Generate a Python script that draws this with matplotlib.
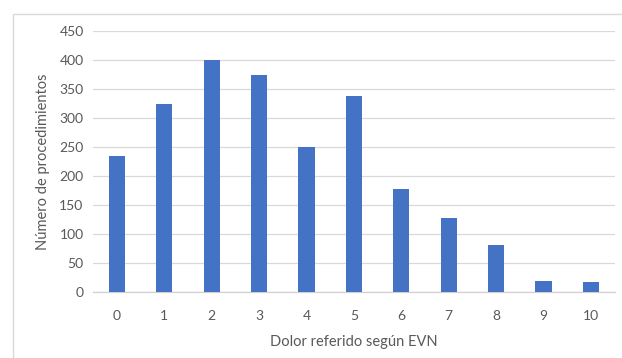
import matplotlib.pyplot as plt
from matplotlib.patches import Rectangle

# Datos
niveles = ['0', '1', '2', '3', '4', '5', '6', '7', '8', '9', '10']
procedimientos = [234, 325, 400, 374, 250, 338, 177, 128, 81, 20, 18]

plt.rcParams['font.family'] = ['Lato', 'DejaVu Sans']
gris = '#595959'

fig = plt.figure(figsize=(6.22, 3.58), dpi=100)
ax = fig.add_axes([0.150, 0.184, 0.838, 0.729])

ax.bar(range(len(niveles)), procedimientos, width=0.34, color='#4472C4', zorder=3)

ax.set_xlim(-0.5, len(niveles) - 0.5)
ax.set_ylim(0, 450)
ax.set_yticks(range(0, 451, 50))
ax.set_xticks(range(len(niveles)))
ax.set_xticklabels(niveles)

ax.grid(axis='y', color='#d9d9d9', linewidth=0.9, zorder=0)
for lado in ['top', 'right', 'left']:
    ax.spines[lado].set_visible(False)
ax.spines['bottom'].set_color('#d0d0d0')
ax.spines['bottom'].set_linewidth(0.9)
ax.tick_params(length=0, labelsize=10, colors=gris)
ax.tick_params(axis='x', pad=13)
ax.tick_params(axis='y', pad=7)

ax.set_xlabel('Dolor referido según EVN', fontsize=10.5, color=gris, labelpad=9)
ax.set_ylabel('Número de procedimientos', fontsize=10.5, color=gris, labelpad=7)

# Marco del gráfico
fig.patches.append(Rectangle((13 / 622, -0.1), 1.2, 1 - 14 / 358 + 0.1,
                             transform=fig.transFigure, fill=False,
                             edgecolor='#d9d9d9', linewidth=1))

fig.savefig('out.png', dpi=100)
